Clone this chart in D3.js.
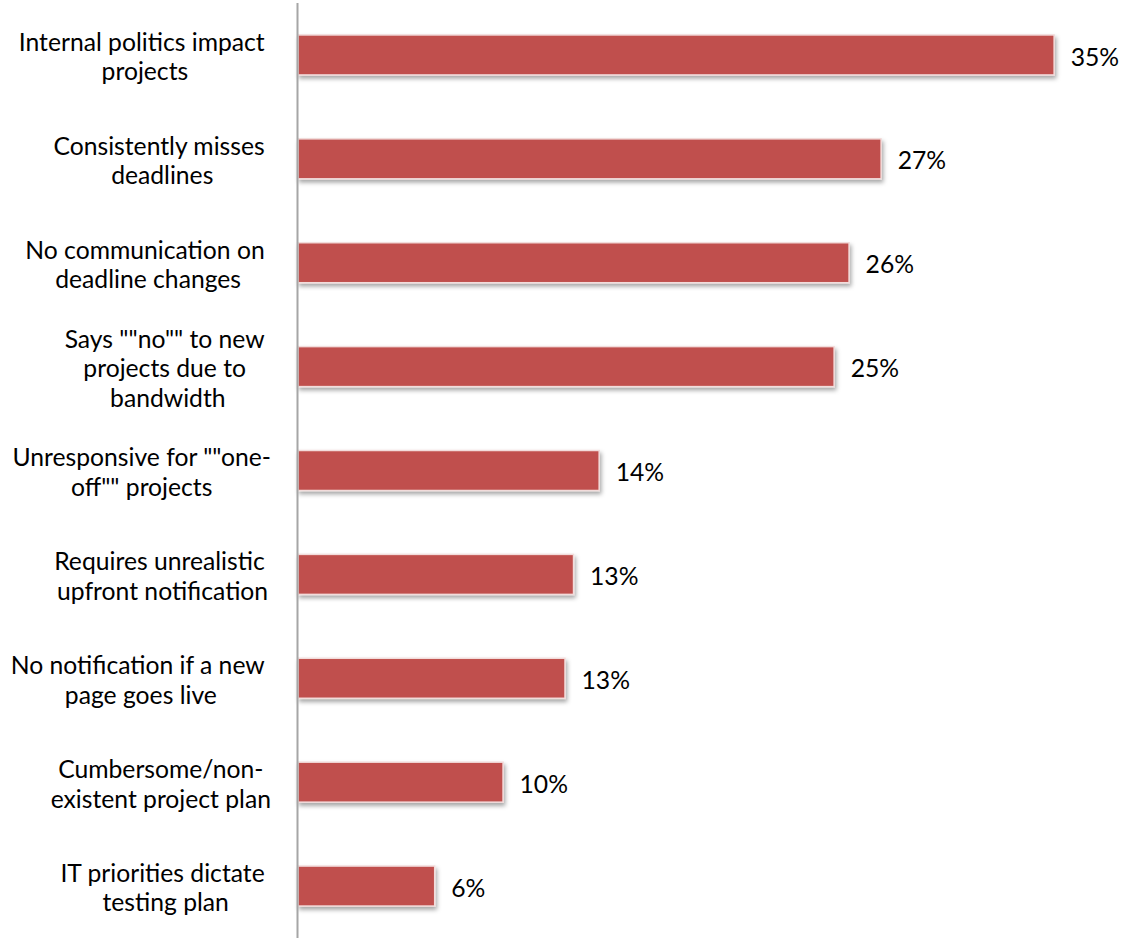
<!DOCTYPE html>
<html>
<head>
<meta charset="utf-8">
<script src="https://cdn.jsdelivr.net/npm/d3@7"></script>
<style>
  html, body { margin: 0; padding: 0; background: #fff; }
  svg { display: block; }
</style>
</head>
<body>
<svg id="chart" width="1127" height="938"></svg>
<script>
// ---- data ----
const categories = [
  ["Internal politics impact", "projects"],
  ["Consistently misses", "deadlines"],
  ["No communication on", "deadline changes"],
  ["Says \"\"no\"\" to new", "projects due to", "bandwidth"],
  ["Unresponsive for \"\"one-", "off\"\" projects"],
  ["Requires unrealistic", "upfront notification"],
  ["No notification if a new", "page goes live"],
  ["Cumbersome/non-", "existent project plan"],
  ["IT priorities dictate", "testing plan"]
];
const values = [35.4, 27.3, 25.8, 25.1, 14.1, 12.9, 12.5, 9.6, 6.4];
const valueLabels = ["35%", "27%", "26%", "25%", "14%", "13%", "13%", "10%", "6%"];

// ---- layout ----
const W = 1127, H = 938;
const axisX = 298;
const labelRight = 271;
const svg = d3.select("#chart");
const FONT = "Lato, 'Open Sans', 'Noto Sans', sans-serif";

// choose font size so text width matches reference metrics
const probe = svg.append("text").attr("font-family", FONT).attr("font-size", 26)
  .text("Internal politics impact");
const measured = probe.node().getComputedTextLength();
probe.remove();
const fontSize = 26 * 246 / measured;

const x = d3.scaleLinear().domain([0, 40]).range([axisX, axisX + 40 * 21.36]);
const y = d3.scaleBand().domain(d3.range(values.length)).range([3, H])
  .paddingInner(0.615).paddingOuter(0.3075);

const defs = svg.append("defs");
const f = defs.append("filter").attr("id", "shadow")
  .attr("x", "-5%").attr("y", "-20%").attr("width", "115%").attr("height", "160%");
f.append("feDropShadow").attr("dx", 1.5).attr("dy", 3).attr("stdDeviation", 2)
  .attr("flood-color", "#000").attr("flood-opacity", 0.35);

// bars
svg.append("g").selectAll("rect").data(values).join("rect")
  .attr("x", x(0))
  .attr("y", (d, i) => y(i))
  .attr("width", d => x(d) - x(0))
  .attr("height", y.bandwidth())
  .attr("fill", "#C0504D")
  .attr("stroke", "#F2DCDB")
  .attr("stroke-width", 1.5)
  .attr("filter", "url(#shadow)");

// value labels
svg.append("g").selectAll("text").data(values).join("text")
  .attr("x", d => x(d) + 16.5)
  .attr("y", (d, i) => y(i) + y.bandwidth() / 2 + 2)
  .attr("dy", "0.35em")
  .attr("font-family", FONT)
  .attr("font-size", fontSize)
  .attr("fill", "#000")
  .text((d, i) => valueLabels[i]);

// category labels (Excel-like: block right-aligned, lines centered in block)
const lineH = 29.5;
const catG = svg.append("g");
categories.forEach((lines, i) => {
  const cy = y(i) + y.bandwidth() / 2 + 2;
  const t = catG.append("text").attr("font-family", FONT).attr("font-size", fontSize).attr("fill", "#000");
  // measure widths (wrapped lines that broke at a space keep the trailing space)
  const spaceW = (() => { const s = catG.append("text").attr("font-family", FONT).attr("font-size", fontSize).text("a a"); const a = catG.append("text").attr("font-family", FONT).attr("font-size", fontSize).text("aa"); const w = s.node().getComputedTextLength() - a.node().getComputedTextLength(); s.remove(); a.remove(); return w; })();
  const widths = lines.map((ln, k) => {
    const m = catG.append("text").attr("font-family", FONT).attr("font-size", fontSize).text(ln);
    let w = m.node().getComputedTextLength();
    m.remove();
    if (k < lines.length - 1 && !ln.endsWith("-")) w += spaceW;
    return w;
  });
  const blockW = d3.max(widths);
  const n = lines.length;
  lines.forEach((ln, k) => {
    const w = widths[k];
    const left = labelRight - blockW + (blockW - w) / 2;
    t.append("tspan")
      .attr("x", left)
      .attr("y", cy + (k - (n - 1) / 2) * lineH)
      .attr("dy", "0.35em")
      .text(ln);
  });
});

// vertical axis line
svg.append("line")
  .attr("x1", axisX - 0.5).attr("x2", axisX - 0.5)
  .attr("y1", 3).attr("y2", H)
  .attr("stroke", "#A6A6A6").attr("stroke-width", 2);
</script>
</body>
</html>
